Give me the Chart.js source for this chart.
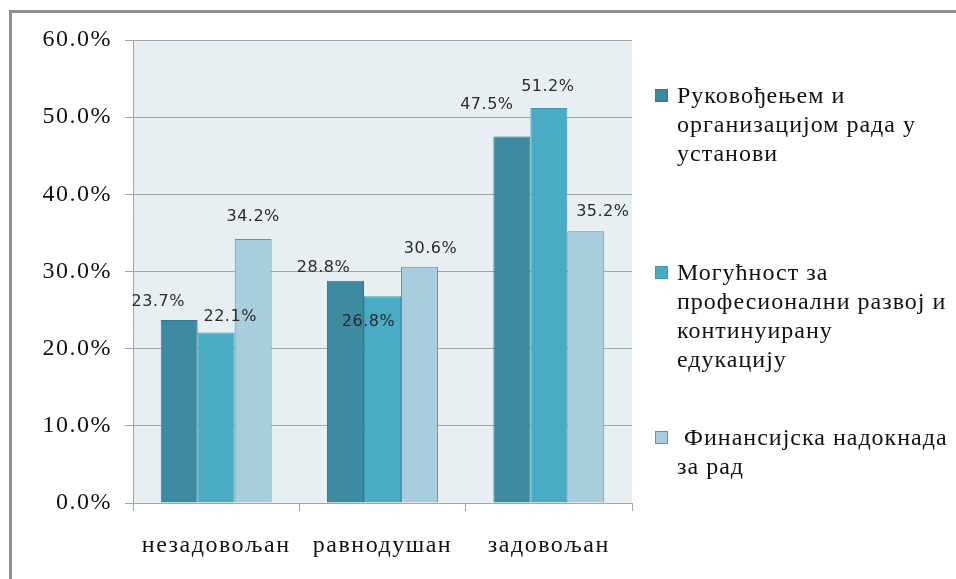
<!DOCTYPE html>
<html>
<head>
<meta charset="utf-8">
<script src="https://cdn.jsdelivr.net/npm/chart.js@4.4.1/dist/chart.umd.min.js"></script>
<style>
  body { margin: 0; background: #fff; }
  #wrap { position: relative; width: 956px; height: 579px; overflow: hidden; }
  #frame { position: absolute; left: 9px; top: 10px; width: 960px; height: 600px;
           border-top: 3px solid #8f8f8f; border-left: 3px solid #8f8f8f; }
  .item { position: absolute; left: 655px; width: 300px;
          font: 24px "Liberation Serif", "Times New Roman", serif; color: #111;
          line-height: 29px; letter-spacing: 1px; white-space: pre-line; }
  .item .box { position: absolute; left: 0; top: 8px; width: 13px; height: 13px; box-sizing: border-box; }
  .item .txt { margin-left: 22px; }
</style>
</head>
<body>
<div id="wrap">
  <canvas id="myChart" width="956" height="579"></canvas>
  <div id="frame"></div>
  <div id="legend"></div>
</div>
<script>
// Chart data
const categories = ['незадовољан', 'равнодушан', 'задовољан'];
const seriesNames = [
    'Руковођењем и\nорганизацијом рада у\nустанови',
    'Могућност за\nпрофесионални развој и\nконтинуирану\nедукацију',
    '\u00a0Финансијска надокнада\nза рад'
];
const leadership = [23.7, 28.8, 47.5];
const development = [22.1, 26.8, 51.2];
const compensation = [34.2, 30.6, 35.2];
const yTicks = [0, 10, 20, 30, 40, 50, 60];

// Colours of the three series
const fills = ['#3b8aa0', '#4aabc5', '#a8cedd'];
const borders = ['#32798d', '#3f97ae', '#4c9bb3'];

// Where Excel put each value label, relative to the top centre of its bar
const labelOffsets = [
    [[-21, -18], [-22, -13], [-25, -32]],
    [[14, -16], [-14, 26], [-1, -21]],
    [[0, -22], [11, -18], [17, -20]]
];

// Light plot area background, plus a bit wider lettering for the axis text
const plotBg = {
    id: 'plotBg',
    beforeDraw(chart) {
        const a = chart.chartArea;
        const ctx = chart.ctx;
        ctx.fillStyle = '#e8eff3';
        ctx.fillRect(a.left, a.top, a.right - a.left, a.bottom - a.top);
        ctx.letterSpacing = '1.5px';
    },
    afterDraw(chart) {
        chart.ctx.letterSpacing = '0px';
    }
};

// Value labels above the bars
const valueLabels = {
    id: 'valueLabels',
    afterDatasetsDraw(chart) {
        const ctx = chart.ctx;
        ctx.save();
        ctx.letterSpacing = '0.5px';
        ctx.font = '16px "DejaVu Sans", sans-serif';
        ctx.fillStyle = '#2b2b2b';
        ctx.textAlign = 'center';
        ctx.textBaseline = 'middle';
        chart.data.datasets.forEach((ds, i) => {
            chart.getDatasetMeta(i).data.forEach((bar, j) => {
                const off = labelOffsets[i][j];
                ctx.fillText(ds.data[j].toFixed(1) + '%', bar.x + off[0], bar.y + off[1]);
            });
        });
        ctx.restore();
    }
};

const ctx = document.getElementById('myChart').getContext('2d');

const myChart = new Chart(ctx, {
    type: 'bar',
    data: {
        labels: categories,
        datasets: [leadership, development, compensation].map((values, i) => ({
            label: seriesNames[i],
            data: values,
            backgroundColor: fills[i],
            borderColor: borders[i],
            borderWidth: 1,
            categoryPercentage: 0.667,
            barPercentage: 1.0
        }))
    },
    options: {
        responsive: false,
        animation: false,
        layout: { padding: { left: 20, top: 40, right: 324, bottom: 0 } },
        plugins: {
            legend: { display: false },
            tooltip: { enabled: false }
        },
        scales: {
            x: {
                grid: { offset: true, drawOnChartArea: false, tickLength: 8, color: '#a6a6a6' },
                border: { color: '#a6a6a6' },
                ticks: {
                    font: { family: '"Liberation Serif", serif', size: 24 },
                    color: '#111',
                    padding: 20
                },
                afterFit(scale) { scale.height = 76; }
            },
            y: {
                min: 0,
                max: 60,
                afterBuildTicks(scale) { scale.ticks = yTicks.map(v => ({ value: v })); },
                grid: { color: '#a6a6a6', tickLength: 8 },
                border: { color: '#a6a6a6' },
                ticks: {
                    font: { family: '"Liberation Serif", serif', size: 24 },
                    color: '#111',
                    padding: 13,
                    callback: v => v.toFixed(1) + '%'
                },
                afterFit(scale) { scale.width = 113; }
            }
        }
    },
    plugins: [plotBg, valueLabels]
});

// Legend on the right, built from the datasets
const legendTops = [81, 258, 423];
const legendEl = document.getElementById('legend');
myChart.data.datasets.forEach((ds, i) => {
    const item = document.createElement('div');
    item.className = 'item';
    item.style.top = legendTops[i] + 'px';
    const box = document.createElement('div');
    box.className = 'box';
    box.style.background = ds.backgroundColor;
    box.style.border = '1px solid ' + ds.borderColor;
    const txt = document.createElement('div');
    txt.className = 'txt';
    txt.textContent = ds.label;
    item.appendChild(box);
    item.appendChild(txt);
    legendEl.appendChild(item);
});
</script>
</body>
</html>
